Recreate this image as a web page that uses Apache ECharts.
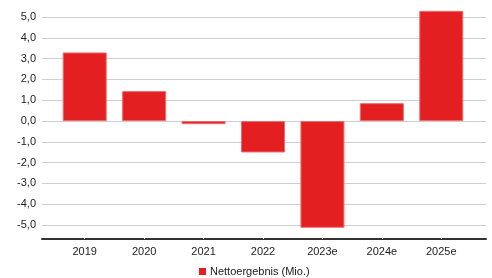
<!DOCTYPE html>
<html>
<head>
<meta charset="utf-8">
<script src="https://cdn.jsdelivr.net/npm/echarts@6/dist/echarts.min.js"></script>
<style>
html,body{margin:0;padding:0;background:#fff;}
#chart{width:492px;height:278px;}
</style>
</head>
<body>
<div id="chart"></div>
<script>
const categories = ['2019', '2020', '2021', '2022', '2023e', '2024e', '2025e'];
const seriesName = 'Nettoergebnis (Mio.)';
const values = [3.30, 1.44, -0.15, -1.51, -5.13, 0.86, 5.30];
const yMin = -5.67;
const yMax = 5.58;

const chart = echarts.init(document.getElementById('chart'), null, {renderer: 'canvas'});
const font = 'Liberation Sans, Arial, sans-serif';
const fmt = v => {
  if (Math.abs(v - Math.round(v)) > 1e-6) return '';
  return Math.round(v).toFixed(1).replace('.', ',');
};
chart.setOption({
  animation: false,
  backgroundColor: '#fff',
  textStyle: {fontFamily: font},
  grid: [
    {left: 42, right: 6, top: 5, bottom: 39},
    {left: 55, right: 21, top: 5, bottom: 39}
  ],
  legend: {
    data: [seriesName],
    left: 199, top: 266, padding: 0,
    itemWidth: 7, itemHeight: 7, itemGap: 5,
    icon: 'rect',
    itemStyle: {borderWidth: 0, color: '#e41f22'},
    textStyle: {fontSize: 11, color: '#222', fontFamily: font, padding: [0, 0, 0, -1]}
  },
  xAxis: [
    {
      gridIndex: 0, type: 'value', min: 0, max: 1,
      axisLine: {show: true, onZero: false, lineStyle: {color: '#333', width: 2}},
      axisTick: {show: false}, axisLabel: {show: false}, splitLine: {show: false}
    },
    {
      gridIndex: 1, type: 'category', data: categories,
      axisLine: {show: false, onZero: false},
      axisTick: {show: true, alignWithLabel: true, inside: true, length: 2, lineStyle: {color: '#fff', width: 1}},
      axisLabel: {fontSize: 11, color: '#222', margin: 7, fontFamily: font},
      splitLine: {show: false}
    }
  ],
  yAxis: [
    {
      gridIndex: 0, type: 'value', min: yMin, max: yMax, splitNumber: 11,
      axisLine: {show: false}, axisTick: {show: false},
      axisLabel: {formatter: fmt, fontSize: 11, color: '#222', margin: 6, fontFamily: font},
      splitLine: {show: true, showMaxLine: false, showMinLine: false, lineStyle: {color: '#cfcfcf', width: 1}}
    },
    {
      gridIndex: 1, type: 'value', min: yMin, max: yMax, splitNumber: 11,
      show: false, splitLine: {show: false}
    }
  ],
  series: [{
    name: seriesName,
    type: 'bar',
    xAxisIndex: 1, yAxisIndex: 1,
    data: values,
    barWidth: 44,
    itemStyle: {color: '#e41f22', borderColor: '#ef6a6a', borderWidth: 1}
  }]
});
</script>
</body>
</html>
